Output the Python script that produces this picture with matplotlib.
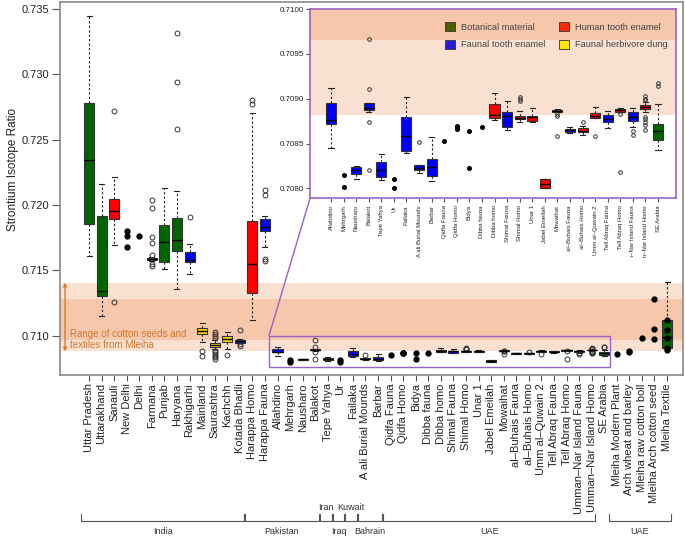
import matplotlib.pyplot as plt
from matplotlib.patches import Rectangle, ConnectionPatch, Patch
from matplotlib.transforms import Bbox, TransformedBbox, blended_transform_factory

plt.rcParams['font.family'] = ['Liberation Sans', 'DejaVu Sans']

sites = ["Uttar Pradesh", "Uttarakhand", "Sanauli", "New Delhi", "Delhi", "Farmana",
         "Punjab", "Haryana", "Rakhigarhi", "Mainland", "Saurashtra", "Kachchh",
         "Kotada Bhadli", "Harappa Homo", "Harappa Fauna", "Allahdino", "Mehrgarh",
         "Nausharo", "Balakot", "Tepe Yahya", "Ur", "Failaka", "A ali Burial Mounds",
         "Barbar", "Qidfa Fauna", "Qidfa Homo", "Bidya", "Dibba fauna", "Dibba homo",
         "Shimal Fauna", "Shimal Homo", "Unar 1", "Jabel Emeilah", "Mowaihat",
         "al\u2013Buhais Fauna", "al\u2013Buhais Homo", "Umm al\u2013Quwain 2",
         "Tell Abraq Fauna", "Tell Abraq Homo", "Umman\u2013Nar Island Fauna",
         "Umman\u2013Nar Island Homo", "SE Arabia", "Mleiha Modern Plant",
         "Arch wheat and barley", "Mleiha raw cotton boll", "Mleiha Arch cotton seed",
         "Mleiha Textile"]

# material of each box (None = only single points)
material = ["bot", "bot", "hum", None, None, "hum", "bot", "bot", "fau", "dung", "dung",
            "dung", "fau", "hum", "fau", "fau", None, "fau", "fau", "fau", None, "fau",
            "fau", "fau", None, None, None, None, "hum", "fau", "hum", "hum", "hum", "hum",
            "fau", "hum", "hum", "fau", "hum", "fau", "hum", "bot", None, None, None, None,
            "bot"]

# (low whisker, q1, median, q3, high whisker)
boxes = [
    (0.71610, 0.71852, 0.72342, 0.72783, 0.73449),
    (0.71148, 0.71301, 0.71342, 0.71918, 0.72163),
    (0.71694, 0.71896, 0.71952, 0.72044, 0.72217),
    None, None,
    (0.71570, 0.71578, 0.71585, 0.71592, 0.71600),
    (0.71508, 0.71562, 0.71715, 0.71845, 0.72132),
    (0.71357, 0.71651, 0.71732, 0.71898, 0.72107),
    (0.71474, 0.71564, 0.71579, 0.71643, 0.71704),
    (0.70954, 0.71013, 0.71036, 0.71059, 0.71094),
    (0.70900, 0.70917, 0.70932, 0.70947, 0.70965),
    (0.70896, 0.70952, 0.70977, 0.70998, 0.71031),
    (0.70942, 0.70947, 0.70957, 0.70967, 0.70972),
    (0.71117, 0.71324, 0.71546, 0.71877, 0.72707),
    (0.71675, 0.71802, 0.71832, 0.71893, 0.71918),
    (0.70845, 0.70872, 0.70876, 0.70895, 0.70912),
    None,
    (0.70811, 0.70816, 0.70820, 0.70824, 0.70825),
    (0.70885, 0.70887, 0.70890, 0.70895, 0.70895),
    (0.70809, 0.70813, 0.70821, 0.70830, 0.70838),
    None,
    (0.70839, 0.70842, 0.70858, 0.70880, 0.70902),
    (0.70817, 0.70821, 0.70823, 0.70826, 0.70826),
    (0.70808, 0.70814, 0.70824, 0.70833, 0.70857),
    None, None, None, None,
    (0.70876, 0.70878, 0.70882, 0.70894, 0.70906),
    (0.70865, 0.70868, 0.70881, 0.70885, 0.70897),
    (0.70874, 0.70877, 0.70879, 0.70881, 0.70886),
    (0.70874, 0.70875, 0.70880, 0.70881, 0.70890),
    (0.70800, 0.70800, 0.70805, 0.70810, 0.70810),
    (0.70885, 0.70885, 0.70886, 0.70887, 0.70888),
    (0.70862, 0.70863, 0.70865, 0.70866, 0.70868),
    (0.70859, 0.70863, 0.70864, 0.70867, 0.70870),
    (0.70878, 0.70878, 0.70881, 0.70884, 0.70891),
    (0.70867, 0.70874, 0.70877, 0.70882, 0.70886),
    (0.70885, 0.70885, 0.70887, 0.70889, 0.70890),
    (0.70868, 0.70875, 0.70880, 0.70885, 0.70890),
    (0.70885, 0.70888, 0.70891, 0.70893, 0.70896),
    (0.70843, 0.70854, 0.70864, 0.70872, 0.70894),
    None, None, None, None,
    (0.70891, 0.70904, 0.70988, 0.71122, 0.71413),
]

# outliers (open circles)
outliers = [
    [], [], [0.72717, 0.71255], [], [],
    [0.72038, 0.71975, 0.71757, 0.71707, 0.71620, 0.71546, 0.71530],
    [], [0.73314, 0.72944, 0.72582], [0.71906],
    [0.70885, 0.70845],
    [0.71031, 0.71015, 0.71000, 0.70985, 0.70885, 0.70872, 0.70860, 0.70848, 0.70836, 0.70824],
    [0.70850], [0.71041, 0.70935, 0.70924],
    [0.72805, 0.72770], [0.72115, 0.72077, 0.71590, 0.71570],
    [], [], [], [0.70967, 0.70911, 0.70874, 0.70820], [], [], [], [0.70852], [],
    [], [], [], [], [], [],
    [0.70902, 0.70900, 0.70897], [], [],
    [0.70883, 0.70881, 0.70858], [], [0.70874], [0.70858], [],
    [0.70883, 0.70818], [0.70864, 0.70859],
    [0.70903, 0.70900, 0.70899, 0.70880, 0.70877, 0.70874, 0.70871, 0.70865],
    [0.70917, 0.70914],
    [], [], [], [], [],
]

# single measurements (filled dots)
points = [
    [], [], [], [0.71804, 0.71763, 0.71676], [0.71763], [], [], [], [], [], [], [], [],
    [], [], [], [0.70815, 0.70802], [], [], [], [0.70810, 0.70800], [], [], [],
    [0.70853], [0.70870, 0.70868, 0.70866], [0.70864, 0.70823], [0.70868],
    [], [], [], [], [], [], [], [], [], [], [], [], [], [],
    [0.70862], [0.70883, 0.70873], [0.70982], [0.71281, 0.71049, 0.70977],
    [0.71122, 0.71044, 0.70985, 0.70904, 0.70891],
]

regions = [("India", 1, 13, 0), ("Pakistan", 14, 19, 0), ("Iran", 20, 20, 1),
           ("Iraq", 21, 21, 0), ("Kuwait", 22, 22, 1), ("Bahrain", 23, 24, 0),
           ("UAE", 25, 41, 0), ("UAE", 43, 47, 0)]

fill = {"bot": "#006400", "hum": "#FF0000", "fau": "#0000FF", "dung": "#FFD700"}
band_col = "#E66414"
purple = "#9A62C8"


def draw_sites(ax, idx, ms):
    for i in idx:
        x = i + 1
        if boxes[i] is not None:
            lo, q1, med, q3, hi = boxes[i]
            st = dict(whislo=lo, q1=q1, med=med, q3=q3, whishi=hi, fliers=outliers[i])
            ax.bxp([st], positions=[x], widths=0.8, patch_artist=True, capwidths=0.4,
                   boxprops=dict(facecolor=fill[material[i]], edgecolor="#333333", lw=0.8),
                   whiskerprops=dict(color="#222222", lw=0.8, ls=(0, (2, 2))),
                   capprops=dict(color="#222222", lw=0.8),
                   medianprops=dict(color="black", lw=1.0),
                   flierprops=dict(marker="o", mfc="none", mec="#333333", ms=ms, mew=0.7))
        elif outliers[i]:
            ax.plot([x] * len(outliers[i]), outliers[i], "o", mfc="none", mec="#333333",
                    ms=ms, mew=0.7)
        if points[i]:
            ax.plot([x] * len(points[i]), points[i], "o", color="black", ms=ms, zorder=5)


fig = plt.figure(figsize=(6.85, 5.38), dpi=100)
ax = fig.add_axes([60 / 685, 1 - 375 / 538, 623 / 685, 373 / 538])

draw_sites(ax, range(len(sites)), 3.5)

ax.axhspan(0.70880, 0.71406, color=band_col, alpha=0.2, lw=0, zorder=0.5)
ax.axhspan(0.70968, 0.71278, color=band_col, alpha=0.2, lw=0, zorder=0.5)

ax.annotate("", xy=(-0.91, 0.70880), xytext=(-0.91, 0.71406),
            arrowprops=dict(arrowstyle="<|-|>", color="#E07A20", lw=1, mutation_scale=5,
                            shrinkA=0, shrinkB=0), zorder=6)
ax.text(-0.55, 0.70972, "Range of cotton seeds and\ntextiles from Mleiha", fontsize=7,
        color="#D0782E", va="center", ha="left", linespacing=1.15, zorder=6)

ax.set_xlim(-1.31, 48.27)
ax.set_ylim(0.70699, 0.73554)
ax.set_yticks([0.710, 0.715, 0.720, 0.725, 0.730, 0.735])
ax.set_yticklabels(["0.710", "0.715", "0.720", "0.725", "0.730", "0.735"])
ax.set_xticks(range(1, len(sites) + 1))
ax.set_xticklabels(sites, rotation=90, va="top", ha="center")
ax.tick_params(axis="both", labelsize=8, colors="#555555", labelcolor="#222222")
ax.tick_params(axis="y", length=6, pad=2)
ax.tick_params(axis="x", length=4, pad=2)
for s in ax.spines.values():
    s.set_color("#8a8a8a")
    s.set_linewidth(1.2)
ax.set_ylabel("Strontium Isotope Ratio", fontsize=8.5, color="#222222")
ax.yaxis.set_label_coords(-0.066, 0.55)

# zoomed window
ax.add_patch(Rectangle((15.32, 0.70763), 27.13, 0.70999 - 0.70763, fill=False,
                       ec=purple, lw=1, zorder=5))

ins = fig.add_axes([310 / 685, 1 - 198.3 / 538, 366 / 685, 189.3 / 538])
draw_sites(ins, range(15, 42), 2.6)
ins.axhspan(0.70882, 0.7110, color=band_col, alpha=0.2, lw=0, zorder=0.5)
ins.axhspan(0.70966, 0.7110, color=band_col, alpha=0.2, lw=0, zorder=0.5)
ins.set_xlim(14.33, 43.43)
ins.set_ylim(0.70789, 0.71000)
ins.set_yticks([0.7080, 0.7085, 0.7090, 0.7095, 0.7100])
ins.set_yticklabels(["0.7080", "0.7085", "0.7090", "0.7095", "0.7100"])
ins.set_xticks(range(16, 43))
ins.set_xticklabels(sites[15:42], rotation=90, va="top", ha="center")
ins.tick_params(axis="y", labelsize=5.8, length=3, pad=1, colors="#555555",
                labelcolor="#222222")
ins.tick_params(axis="x", labelsize=4.3, length=3, pad=2, colors="#555555",
                labelcolor="#222222")
for s in ins.spines.values():
    s.set_color(purple)
    s.set_linewidth(1.2)

handles = [Patch(fc="#4D5E05", ec="#333333", lw=0.6, label="Botanical material"),
           Patch(fc="#2B1BD6", ec="#333333", lw=0.6, label="Faunal tooth enamel"),
           Patch(fc="#F52A0A", ec="#333333", lw=0.6, label="Human tooth enamel"),
           Patch(fc="#FFE60A", ec="#333333", lw=0.6, label="Faunal herbivore dung")]
leg = ins.legend(handles=handles, ncol=2, loc="upper right", bbox_to_anchor=(1.0, 0.975),
                 frameon=False, fontsize=6.7, handlelength=1.1, handleheight=1.1,
                 handletextpad=0.6, columnspacing=1.5, labelspacing=0.85)
for t in leg.get_texts():
    t.set_color("#444444")

# clip the inset labels like the original
clip = TransformedBbox(Bbox([[0, 1 - 258 / 538], [1, 1]]), fig.transFigure)
for lab in ins.get_xticklabels():
    lab.set_clip_box(clip)
    lab.set_clip_on(True)

con = ConnectionPatch(xyA=(15.32, 0.70999), coordsA=ax.transData, xyB=(0, 0),
                      coordsB=ins.transAxes, color=purple, lw=1)
fig.add_artist(con)

# country brackets below the labels
tr = blended_transform_factory(ax.transData, fig.transFigure)
y_line = 1 - 521 / 538
y_tick = 1 - 514 / 538
for name, first, last, row in regions:
    x0, x1 = first - 0.6, last + 0.3
    ax.plot([x0, x0, x1, x1], [y_tick, y_line, y_line, y_tick], color="#555555", lw=0.8,
            transform=tr, clip_on=False)
    ty = 1 - 532 / 538 if row == 0 else 1 - 508 / 538
    ax.text((x0 + x1) / 2, ty, name, transform=tr, ha="center", va="center",
            fontsize=6.5, color="#333333")

fig.savefig("out.png", dpi=100)
